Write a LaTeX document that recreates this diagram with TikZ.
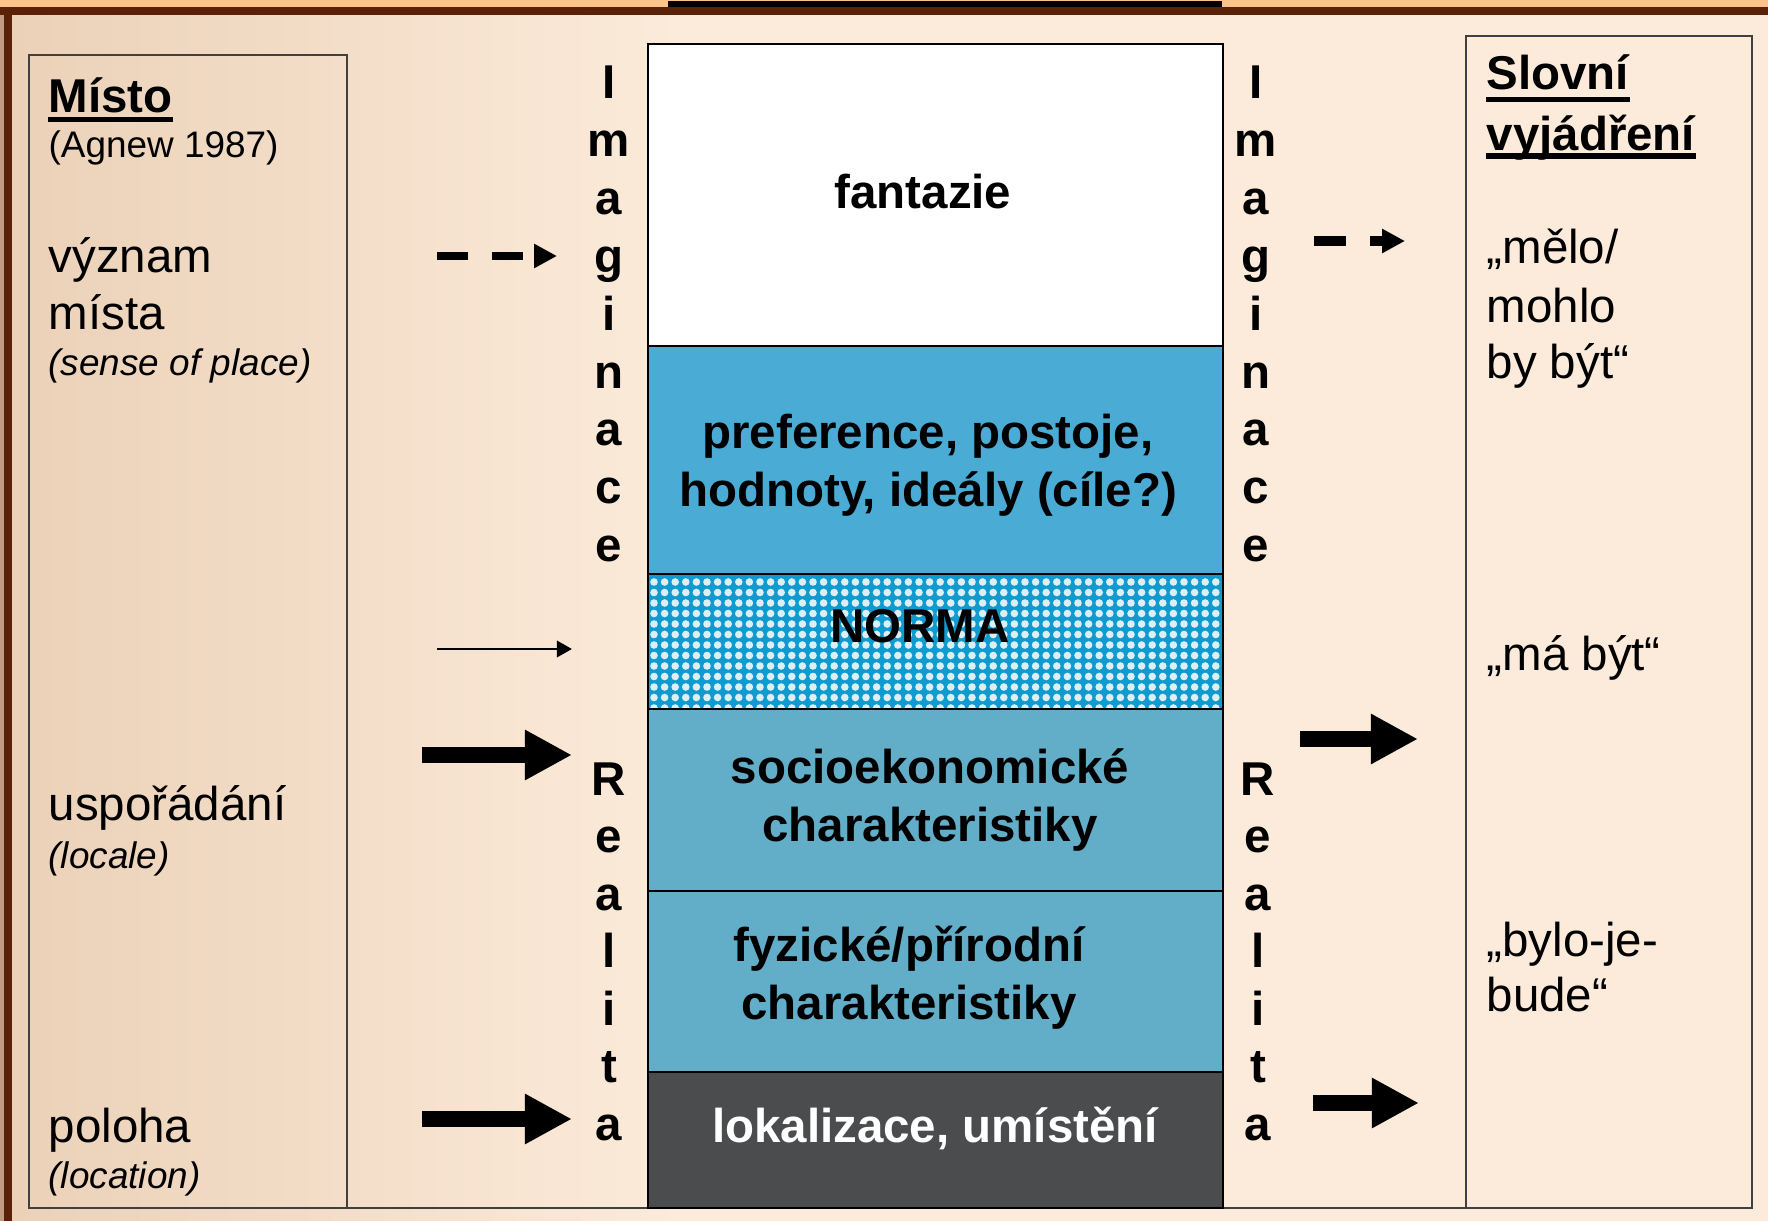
\documentclass[tikz,border=0pt]{standalone}
\usepackage{fontspec}
\setmainfont{Liberation Sans}
\usetikzlibrary{arrows.meta}
\definecolor{peach}{HTML}{FCEBDA}
\definecolor{peachtop}{HTML}{FBC48B}
\definecolor{framebrown}{HTML}{5A2108}
\definecolor{tanleft}{HTML}{EBD1B8}
\definecolor{prefblue}{HTML}{4AABD5}
\definecolor{normblue}{HTML}{109BD0}
\definecolor{normdot}{HTML}{DDEEF4}
\definecolor{charblue}{HTML}{62ADC8}
\definecolor{lokgray}{HTML}{4B4C4E}
\begin{document}
\begin{tikzpicture}[x=0.01cm,y=-0.01cm,
  big/.style={font=\fontsize{13.5}{16.5}\selectfont\bfseries, inner sep=0pt, align=center},
  lft/.style={font=\fontsize{13.5}{16.5}\selectfont, inner sep=0pt, anchor=base west},
  head/.style={font=\fontsize{13.5}{16.5}\selectfont\bfseries, inner sep=0pt, anchor=base west},
  sml/.style={font=\fontsize{10.5}{12.5}\selectfont, inner sep=0pt, anchor=base west},
  letter/.style={font=\fontsize{13.5}{16.5}\selectfont\bfseries, inner sep=0pt, anchor=base},
  uline/.style={line width=1.5pt},
  boxline/.style={draw=black!75, line width=0.45pt},
  layerline/.style={draw=black, line width=0.7pt},
  bigarr/.style={line width=4.3pt, -{Triangle[length=13.4pt,width=13.4pt]}},
  dasharr/.style={line width=2.3pt, dash pattern=on 8.8pt off 6.8pt, -{Triangle[length=6.5pt,width=6.5pt]}},
  thinarr/.style={line width=0.85pt, -{Triangle[length=4.3pt,width=4.6pt]}}]
\useasboundingbox (0,0) rectangle (1768,1221);
\fill[peach] (0,0) rectangle (1768,1221);
\shade[left color=tanleft, right color=peach] (12,15) rectangle (680,1221);
\fill[peachtop] (0,0) rectangle (1768,7);
\fill[framebrown] (0,7) rectangle (1768,15);
\fill[framebrown] (4,7) rectangle (12,1221);
\fill[tanleft!70!framebrown] (0,15) rectangle (4,1221);
\fill[black] (668,1) rectangle (1222,7);
\draw[boxline] (29,55) rectangle (347,1208);
\draw[boxline] (1466,36) rectangle (1752,1208);
\draw[boxline] (29,1208) -- (1752,1208);
\fill[white] (648,44) rectangle (1223,346);
\fill[prefblue] (648,346) rectangle (1223,574);
\fill[normblue] (648,574) rectangle (1223,709);
\begin{scope}
\clip (648,574) rectangle (1223,709);
\foreach \i in {0,...,54} \foreach \j in {0,...,12} \fill[normdot] ({654+10.6*\i},{582+10.5*\j}) circle (3.8);
\end{scope}
\fill[charblue] (648,709) rectangle (1223,1072);
\fill[lokgray] (648,1072) rectangle (1223,1208);
\draw[layerline] (648,44) rectangle (1223,1208);
\draw[layerline] (648,346) -- (1223,346) (648,574) -- (1223,574) (648,709) -- (1223,709)
  (648,891) -- (1223,891) (648,1072) -- (1223,1072);
\node[big] (fant) at (923,192) {fantazie};
\node[big] (pref) at (928,465) {preference, postoje,\\hodnoty, ideály (cíle?)};
\node[big] (norma) at (920,626) {NORMA};
\node[big] (socio) at (930,800) {socioekonomické\\charakteristiky};
\node[big] (fyz) at (909,978) {fyzické/přírodní\\charakteristiky};
\node[big, text=white] (lok) at (935,1128) {lokalizace, umístění};
\foreach \ch [count=\i from 0] in {I,m,a,g,i,n,a,c,e} {
  \node[letter] (imL\i) at (609,{99+57.8*\i}) {\ch};
  \node[letter] (imR\i) at (1256,{99+57.8*\i}) {\ch};
}
\foreach \ch [count=\i from 0] in {R,e,a,l,i,t,a} {
  \node[letter] (reL\i) at (609,{795+57.5*\i}) {\ch};
  \node[letter] (reR\i) at (1258,{795+57.5*\i}) {\ch};
}
\node[head] (misto) at (48,112) {Místo};
\node[sml] (agnew) at (48,157) {(Agnew 1987)};
\node[lft] (vyznam) at (48,272) {význam};
\node[lft] (mista) at (48,330) {místa};
\node[sml, font=\fontsize{10.5}{12.5}\selectfont\itshape] (sense) at (48,375) {(sense of place)};
\node[lft] (usporadani) at (48,820) {uspořádání};
\node[sml, font=\fontsize{10.5}{12.5}\selectfont\itshape] (locale) at (48,868) {(locale)};
\node[lft] (poloha) at (48,1142) {poloha};
\node[sml, font=\fontsize{10.5}{12.5}\selectfont\itshape] (location) at (48,1188) {(location)};
\node[head] (slovni) at (1486,90) {Slovní};
\node[head] (vyjadreni) at (1486,150) {vyjádření};
\node[lft] (melo) at (1486,263) {„mělo/};
\node[lft] (mohlo) at (1486,322) {mohlo};
\node[lft] (bybyt) at (1486,378) {by být“};
\node[lft] (mabyt) at (1486,670) {„má být“};
\node[lft] (bylo) at (1486,956) {„bylo-je-};
\node[lft] (bude) at (1486,1011) {bude“};
\draw[uline] ([yshift=-2.1pt]misto.base west) -- ([yshift=-2.1pt]misto.base east);
\draw[uline] ([yshift=-2.7pt]slovni.base west) -- ([yshift=-2.7pt]slovni.base east);
\draw[uline] ([yshift=-1.7pt]vyjadreni.base west) -- ([yshift=-1.7pt]vyjadreni.base east);
\coordinate (fromL1) at (437,256); \coordinate (toL1) at (557,256);
\coordinate (fromL2) at (437,649); \coordinate (toL2) at (572,649);
\coordinate (fromL3) at (422,755); \coordinate (toL3) at (572,755);
\coordinate (fromL4) at (422,1119); \coordinate (toL4) at (572,1119);
\coordinate (fromR1) at (1314,241); \coordinate (toR1) at (1405,241);
\coordinate (fromR2) at (1300,739); \coordinate (toR2) at (1418,739);
\coordinate (fromR3) at (1313,1103); \coordinate (toR3) at (1419,1103);
\draw[dasharr] (fromL1) -- (toL1);
\draw[thinarr] (fromL2) -- (toL2);
\draw[bigarr] (fromL3) -- (toL3);
\draw[bigarr] (fromL4) -- (toL4);
\draw[dasharr, line width=2.8pt, dash pattern=on 9.1pt off 6.8pt] (fromR1) -- (toR1);
\draw[bigarr] (fromR2) -- (toR2);
\draw[bigarr] (fromR3) -- (toR3);
\end{tikzpicture}
\end{document}
